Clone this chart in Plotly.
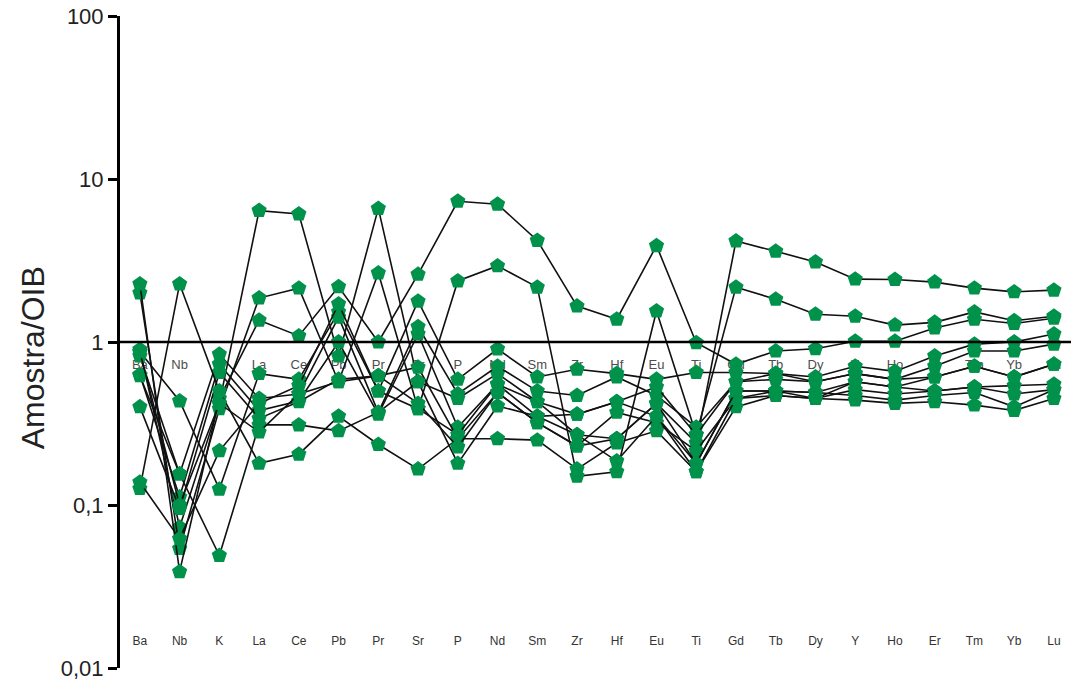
import plotly.graph_objects as go

# Elements in spider-diagram order
elements = ["Ba", "Nb", "K", "La", "Ce", "Pb", "Pr", "Sr", "P", "Nd", "Sm", "Zr",
            "Hf", "Eu", "Ti", "Gd", "Tb", "Dy", "Y", "Ho", "Er", "Tm", "Yb", "Lu"]

# OIB-normalised concentrations, one list per sample
s01 = [0.90, 0.073, 0.42, 6.4, 6.1, 0.82, 6.6, 0.57, 0.45, 0.64, 0.43, 0.27,
       0.255, 0.42, 0.24, 4.16, 3.6, 3.1, 2.43, 2.42, 2.33, 2.14, 2.03, 2.08]
s02 = [2.0, 0.054, 0.39, 1.86, 2.14, 0.57, 2.65, 0.39, 2.37, 2.93, 2.17, 0.15,
       0.16, 1.55, 0.27, 2.17, 1.83, 1.48, 1.44, 1.27, 1.32, 1.53, 1.35, 1.44]
s03 = [2.27, 0.039, 0.45, 1.36, 1.09, 2.18, 1.0, 2.6, 7.3, 7.0, 4.2, 1.66,
       1.38, 3.9, 0.99, 0.73, 0.88, 0.91, 1.01, 1.01, 1.22, 1.38, 1.30, 1.40]
s04 = [0.87, 0.435, 0.125, 0.64, 0.59, 1.53, 0.50, 1.78, 0.59, 0.905, 0.61, 0.68,
       0.64, 0.59, 0.65, 0.65, 0.64, 0.61, 0.71, 0.66, 0.82, 0.97, 1.0, 1.12]
s05 = [0.82, 0.155, 0.84, 0.45, 0.48, 1.42, 0.37, 1.24, 0.48, 0.71, 0.50, 0.47,
       0.61, 0.47, 0.30, 0.57, 0.59, 0.57, 0.64, 0.59, 0.71, 0.88, 0.88, 0.97]
s06 = [0.63, 0.112, 0.73, 0.38, 0.435, 1.0, 0.36, 1.12, 0.30, 0.55, 0.35, 0.36,
       0.43, 0.35, 0.18, 0.50, 0.50, 0.49, 0.57, 0.53, 0.61, 0.71, 0.61, 0.73]
s07 = [0.40, 0.095, 0.65, 0.34, 0.43, 0.59, 0.62, 0.70, 0.255, 0.49, 0.32, 0.23,
       0.37, 0.32, 0.215, 0.45, 0.47, 0.45, 0.51, 0.48, 0.50, 0.53, 0.54, 0.55]
s08 = [0.126, 2.27, 0.50, 0.18, 0.205, 0.35, 0.235, 0.166, 0.255, 0.255, 0.25, 0.166,
       0.24, 0.285, 0.16, 0.40, 0.47, 0.45, 0.44, 0.42, 0.43, 0.41, 0.38, 0.45]
s09 = [0.62, 0.155, 0.049, 0.31, 0.31, 0.285, 0.37, 0.57, 0.18, 0.405, 0.35, 0.27,
       0.186, 0.35, 0.16, 0.45, 0.50, 0.49, 0.47, 0.44, 0.47, 0.49, 0.40, 0.51]
s10 = [0.138, 0.062, 0.215, 0.42, 0.54, 1.71, 0.50, 0.39, 0.27, 0.55, 0.43, 0.36,
       0.43, 0.53, 0.27, 0.57, 0.64, 0.57, 0.64, 0.59, 0.61, 0.71, 0.61, 0.73]
s11 = [0.87, 0.10, 0.42, 0.28, 0.48, 0.57, 0.62, 0.42, 0.227, 0.49, 0.32, 0.23,
       0.255, 0.42, 0.18, 0.50, 0.50, 0.45, 0.57, 0.53, 0.50, 0.53, 0.48, 0.51]

samples = [s01, s02, s03, s04, s05, s06, s07, s08, s09, s10, s11]

# y tick values and their comma-decimal labels
tick_vals = [0.01, 0.1, 1, 10, 100]
tick_text = ["0,01", "0,1", "1", "10", "100"]

# heights at which the two rows of element names sit
upper_label_level = 0.72
lower_label_level = 0.0145

GREEN = "#00914a"
FONT = "Liberation Sans, Arial, sans-serif"

fig = go.Figure()

# element names drawn first so lines and symbols pass over them
fig.add_trace(go.Scatter(
    x=elements, y=[upper_label_level] * len(elements), mode="text", text=elements,
    textfont=dict(family=FONT, size=13, color="#4d4d4d"), hoverinfo="skip",
    showlegend=False))
fig.add_trace(go.Scatter(
    x=elements, y=[lower_label_level] * len(elements), mode="text", text=elements,
    textfont=dict(family=FONT, size=12, color="#333333"), hoverinfo="skip",
    showlegend=False))

for i, s in enumerate(samples):
    fig.add_trace(go.Scatter(
        x=elements, y=s, mode="lines+markers", name=f"amostra {i + 1}",
        line=dict(color="#111111", width=1.6),
        marker=dict(symbol="pentagon", size=16, color=GREEN,
                    line=dict(width=0)),
        showlegend=False))

# reference line at OIB = 1
fig.add_shape(type="line", xref="paper", x0=0, x1=1, yref="y", y0=1, y1=1,
              line=dict(color="black", width=2.5), layer="above")

fig.update_layout(
    width=1071, height=682,
    margin=dict(l=120, r=0, t=16, b=14),
    paper_bgcolor="white", plot_bgcolor="white",
    font=dict(family=FONT, color="#222222"),
    xaxis=dict(type="category", range=[-0.5, 23.43], showticklabels=False,
               showgrid=False, zeroline=False, showline=False, ticks=""),
    yaxis=dict(type="log", range=[-2, 2], tickvals=tick_vals, ticktext=tick_text,
               tickfont=dict(size=22, color="#222222"), ticks="outside",
               ticklen=9, tickwidth=2.5, tickcolor="black",
               showline=True, linecolor="black", linewidth=3,
               showgrid=False, zeroline=False, automargin=False),
    annotations=[dict(text="Amostra/OIB", textangle=-90, xref="paper", x=0,
                      xanchor="center", xshift=-87, yref="paper", y=0.475,
                      yanchor="middle", showarrow=False,
                      font=dict(family=FONT, size=32, color="#222222"))],
)

fig.write_html("out.html")
